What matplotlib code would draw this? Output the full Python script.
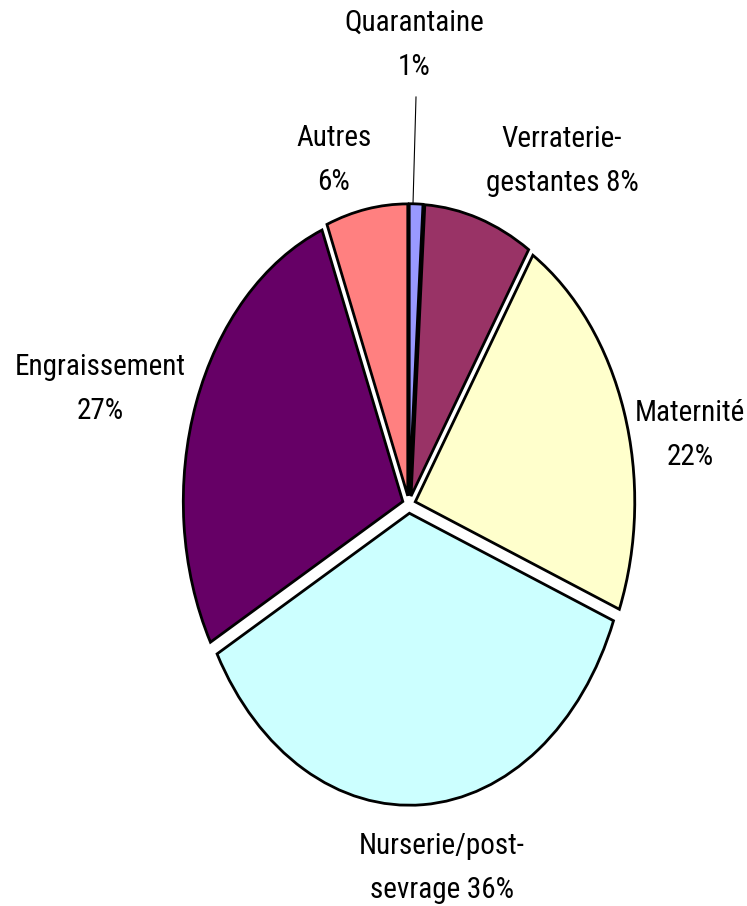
import matplotlib
matplotlib.use("Agg")
import matplotlib.pyplot as plt

# Share of the total by building section (percent)
categories = ["Quarantaine", "Verraterie-gestantes", "Maternité",
              "Nurserie/post-sevrage", "Engraissement", "Autres"]
shares = [1, 8, 22, 36, 27, 6]
colors = ["#9999FF", "#993366", "#FFFFCC", "#CCFFFF", "#660066", "#FF8080"]

# Label text per slice (name and percentage) and where each is placed (pixels)
label_text = ["Quarantaine\n{}%", "Verraterie-\ngestantes {}%", "Maternité\n{}%",
              "Nurserie/post-\nsevrage {}%", "Engraissement\n{}%", "Autres\n{}%"]
label_pos = [(414, 45), (562, 161), (690, 435), (442, 868), (100, 389), (334, 160)]

W, H = 747, 906
fig = plt.figure(figsize=(W / 100, H / 100), dpi=100)
ax = fig.add_axes([0, 0, 1, 1])

family = ["Roboto Condensed", "Archivo Narrow", "Liberation Sans", "DejaVu Sans"]

cx, cy = 409, 504.5      # pie centre, pixels from top-left
rx, ry = 219.5, 292.0    # ellipse radii, pixels
explode = 0.03

ax.pie(shares, colors=colors, startangle=90, counterclock=False,
       explode=[explode] * len(shares),
       wedgeprops=dict(edgecolor="black", linewidth=2.0))
ax.set_aspect("auto")
ax.set_xlim(-cx / rx, (W - cx) / rx)
ax.set_ylim(-(H - cy) / ry, cy / ry)
ax.axis("off")


def to_data(px, py):
    return (px - cx) / rx, (cy - py) / ry


for txt, val, (px, py) in zip(label_text, shares, label_pos):
    x, y = to_data(px, py)
    ax.text(x, y, txt.format(val), ha="center", va="center", fontsize=21,
            family=family, linespacing=1.75, color="black")

# Leader line for the smallest slice
x0, y0 = to_data(416, 97)
x1, y1 = to_data(413, 204)
ax.plot([x0, x1], [y0, y1], color="black", linewidth=0.8)

fig.savefig("out.png", dpi=100)
